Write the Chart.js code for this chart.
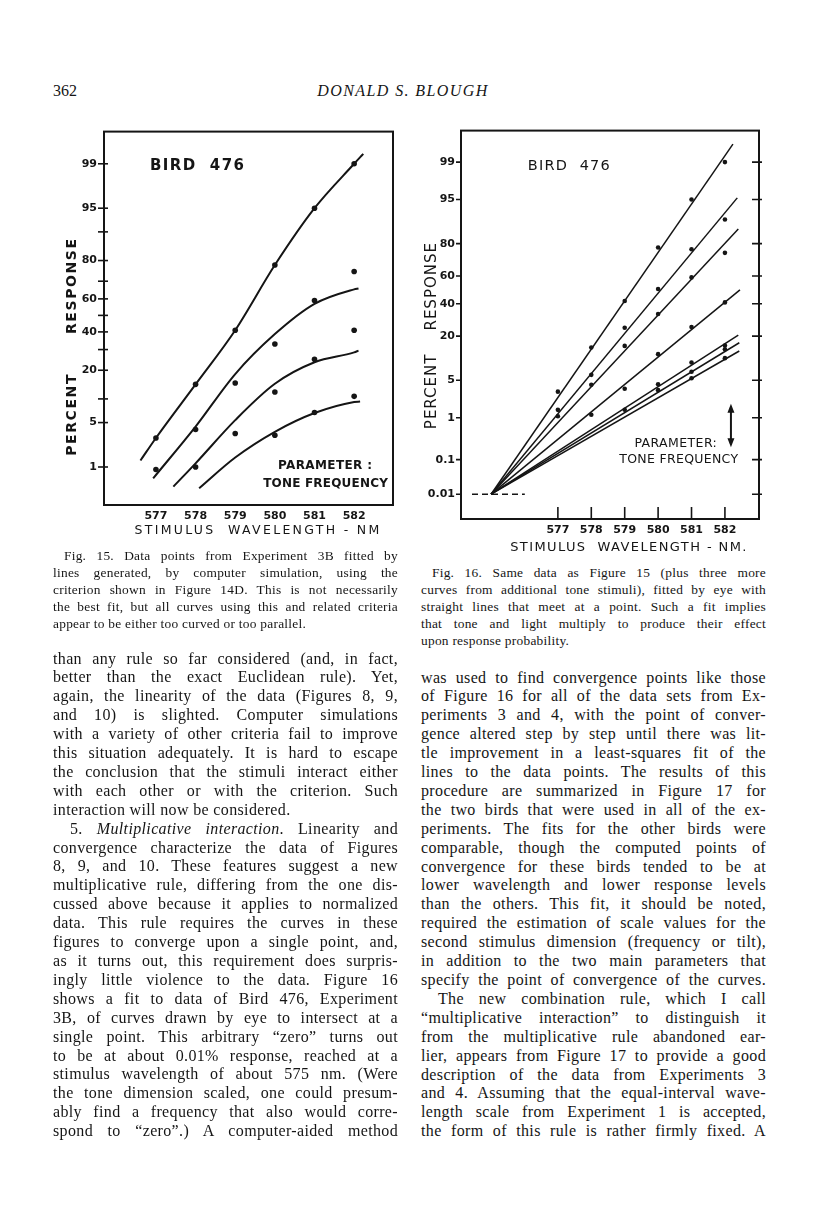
<!DOCTYPE html>
<html>
<head>
<meta charset="utf-8">
<script src="https://cdn.jsdelivr.net/npm/chart.js@4.4.1/dist/chart.umd.min.js"></script>
<style>
  body { margin: 0; background: #fff; }
  #page { position: relative; width: 816px; height: 1207px; overflow: hidden; background: #fff;
          font-family: "Liberation Serif", "DejaVu Serif", serif; color: #151515; }
  canvas { position: absolute; }
  .col { position: absolute; width: 345px; font-size: 16px; line-height: 18.9px; letter-spacing: 0.35px; }
  .cap { position: absolute; width: 345px; font-size: 13.4px; line-height: 17px; letter-spacing: 0.25px; }
  .col div, .cap div { text-align: justify; text-align-last: justify; }
  .col div.end, .cap div.end { text-align-last: left; }
  .col div.ind { padding-left: 17px; }
  .cap div.ind { padding-left: 11px; }
  #folio { position: absolute; left: 53px; top: 82px; font-size: 16px; }
  #runhead { position: absolute; left: 0; width: 806px; top: 82px; text-align: center;
             font-size: 16px; font-style: italic; letter-spacing: 1.4px; }
</style>
</head>
<body>
<div id="page">
  <div id="folio">362</div>
  <div id="runhead">DONALD S. BLOUGH</div>

  <canvas id="fig15" width="355" height="430" style="left:50px; top:118px;"></canvas>
  <canvas id="fig16" width="360" height="445" style="left:415px; top:118px;"></canvas>

  <div class="cap" style="left:53px; top:547px;">
    <div class="ind">Fig. 15. Data points from Experiment 3B fitted by</div>
    <div>lines generated, by computer simulation, using the</div>
    <div>criterion shown in Figure 14D. This is not necessarily</div>
    <div>the best fit, but all curves using this and related criteria</div>
    <div class="end">appear to be either too curved or too parallel.</div>
  </div>
  <div class="cap" style="left:421px; top:564px;">
    <div class="ind">Fig. 16. Same data as Figure 15 (plus three more</div>
    <div>curves from additional tone stimuli), fitted by eye with</div>
    <div>straight lines that meet at a point. Such a fit implies</div>
    <div>that tone and light multiply to produce their effect</div>
    <div class="end">upon response probability.</div>
  </div>

  <div class="col" style="left:53px; top:649.5px;">
    <div>than any rule so far considered (and, in fact,</div>
    <div>better than the exact Euclidean rule). Yet,</div>
    <div>again, the linearity of the data (Figures 8, 9,</div>
    <div>and 10) is slighted. Computer simulations</div>
    <div>with a variety of other criteria fail to improve</div>
    <div>this situation adequately. It is hard to escape</div>
    <div>the conclusion that the stimuli interact either</div>
    <div>with each other or with the criterion. Such</div>
    <div class="end">interaction will now be considered.</div>
    <div class="ind">5. <i>Multiplicative interaction</i>. Linearity and</div>
    <div>convergence characterize the data of Figures</div>
    <div>8, 9, and 10. These features suggest a new</div>
    <div>multiplicative rule, differing from the one dis-</div>
    <div>cussed above because it applies to normalized</div>
    <div>data. This rule requires the curves in these</div>
    <div>figures to converge upon a single point, and,</div>
    <div>as it turns out, this requirement does surpris-</div>
    <div>ingly little violence to the data. Figure 16</div>
    <div>shows a fit to data of Bird 476, Experiment</div>
    <div>3B, of curves drawn by eye to intersect at a</div>
    <div>single point. This arbitrary “zero” turns out</div>
    <div>to be at about 0.01% response, reached at a</div>
    <div>stimulus wavelength of about 575 nm. (Were</div>
    <div>the tone dimension scaled, one could presum-</div>
    <div>ably find a frequency that also would corre-</div>
    <div>spond to “zero”.) A computer-aided method</div>
  </div>

  <div class="col" style="left:421px; top:668.5px;">
    <div>was used to find convergence points like those</div>
    <div>of Figure 16 for all of the data sets from Ex-</div>
    <div>periments 3 and 4, with the point of conver-</div>
    <div>gence altered step by step until there was lit-</div>
    <div>tle improvement in a least-squares fit of the</div>
    <div>lines to the data points. The results of this</div>
    <div>procedure are summarized in Figure 17 for</div>
    <div>the two birds that were used in all of the ex-</div>
    <div>periments. The fits for the other birds were</div>
    <div>comparable, though the computed points of</div>
    <div>convergence for these birds tended to be at</div>
    <div>lower wavelength and lower response levels</div>
    <div>than the others. This fit, it should be noted,</div>
    <div>required the estimation of scale values for the</div>
    <div>second stimulus dimension (frequency or tilt),</div>
    <div>in addition to the two main parameters that</div>
    <div>specify the point of convergence of the curves.</div>
    <div class="ind">The new combination rule, which I call</div>
    <div>“multiplicative interaction” to distinguish it</div>
    <div>from the multiplicative rule abandoned ear-</div>
    <div>lier, appears from Figure 17 to provide a good</div>
    <div>description of the data from Experiments 3</div>
    <div>and 4. Assuming that the equal-interval wave-</div>
    <div>length scale from Experiment 1 is accepted,</div>
    <div>the form of this rule is rather firmly fixed. A</div>
  </div>
</div>

<script>
"use strict";

var ink = "#151515";

// wavelengths (nm) shared by both figures
var wavelengths = [577, 578, 579, 580, 581, 582];

// Fig. 15 - percent response
var fig15DotsA = [3, 14.5, 41, 78, 95, 99];          // 577..582
var fig15DotsB = [0.9, 4, 15, 33, 59, 75];           // 577..582
var fig15DotsC = [1.0, 3.5, 12, 25, 41];             // 578..582
var fig15DotsD = [3.3, 6.8, 10.7];                   // 580..582

// Fig. 15 - simulated curves
var curve1X = [576.61, 577, 578, 579, 580, 581, 582, 582.23];
var curve1Y = [1.3, 3, 14.5, 41, 78, 95, 99, 99.34];
var curve2X = [576.93, 578, 579, 580, 581, 582, 582.11];
var curve2Y = [0.62, 4.4, 18.4, 38.7, 57, 65.5, 66];
var curve3X = [577.44, 578, 579, 580, 581, 582, 582.11];
var curve3Y = [0.43, 1.16, 5.4, 14.7, 23.6, 28.5, 29.4];
var curve4X = [578.09, 579, 580, 581, 582, 582.15];
var curve4Y = [0.4, 1.46, 3.7, 6.7, 9.2, 9.3];

var fig15Ticks = [1, 5, 10, 20, 30, 40, 50, 60, 70, 80, 90, 95, 99];
var fig15Labels = [1, 5, 20, 40, 60, 80, 95, 99];

// Fig. 16 - dots, one row per line (first wavelength given)
var fig16Start = [577, 577, 577, 578, 579, 580, 581];
var fig16Dots = [
    [3.2, 14.7, 42, 78, 95, 99],
    [1.45, 6.1, 24.5, 50.6, 77, 90],
    [1.07, 4.2, 15.4, 33, 59, 75],
    [1.15, 3.6, 12.1, 25, 41],
    [1.46, 4.3, 9.3, 15.6],
    [3.4, 6.8, 14],
    [5.4, 10.7]
];
// Fig. 16 - straight lines from the convergence point
var convergeX = 575;
var convergeY = 0.01;
var lineEndX = [582.24, 582.37, 582.40, 582.45, 582.40, 582.43, 582.43];
var lineEndY = [99.6, 95.3, 86.6, 50, 20.5, 16.8, 13.3];
var dashX = [574.43, 576.01];
var dashY = [0.01, 0.01];

var fig16Ticks = [0.01, 0.1, 1, 5, 20, 40, 60, 80, 95, 99];


// inverse normal cdf (Acklam)
function probit(p) {
    var a = [-3.969683028665376e+01, 2.209460984245205e+02, -2.759285104469687e+02, 1.383577518672690e+02, -3.066479806614716e+01, 2.506628277459239e+00];
    var b = [-5.447609879822406e+01, 1.615858368580409e+02, -1.556989798598866e+02, 6.680131188771972e+01, -1.328068155288572e+01];
    var c = [-7.784894002430293e-03, -3.223964580411365e-01, -2.400758277161838e+00, -2.549671348908685e+00, 4.374664141464968e+00, 2.938163982698783e+00];
    var d = [7.784695709041462e-03, 3.224671290700398e-01, 2.445134137142996e+00, 3.754408661907416e+00];
    var q, r;
    if (p < 0.02425) {
        q = Math.sqrt(-2 * Math.log(p));
        return (((((c[0]*q+c[1])*q+c[2])*q+c[3])*q+c[4])*q+c[5]) / ((((d[0]*q+d[1])*q+d[2])*q+d[3])*q+1);
    }
    if (p <= 1 - 0.02425) {
        q = p - 0.5; r = q * q;
        return (((((a[0]*r+a[1])*r+a[2])*r+a[3])*r+a[4])*r+a[5])*q / (((((b[0]*r+b[1])*r+b[2])*r+b[3])*r+b[4])*r+1);
    }
    q = Math.sqrt(-2 * Math.log(1 - p));
    return -(((((c[0]*q+c[1])*q+c[2])*q+c[3])*q+c[4])*q+c[5]) / ((((d[0]*q+d[1])*q+d[2])*q+d[3])*q+1);
}

// probability-paper axis (values in percent)
class ProbitScale extends Chart.Scale {
    determineDataLimits() {
        this.min = this.options.min;
        this.max = this.options.max;
    }
    buildTicks() {
        return [];
    }
    getPixelForValue(value) {
        if (value === null || value === undefined || isNaN(value)) return NaN;
        var z0 = probit(this.min / 100), z1 = probit(this.max / 100);
        return this.getPixelForDecimal((probit(value / 100) - z0) / (z1 - z0));
    }
    getValueForPixel(pixel) {
        return this.getDecimalForPixel(pixel);
    }
}
ProbitScale.id = 'probit';
ProbitScale.defaults = {};
Chart.register(ProbitScale);


function pts(xs, ys) {
    return ys.map(function(v, i) { return {x: xs[i], y: v}; });
}

function dotSet(data, r) {
    return {type: 'scatter', data: data, pointRadius: r, pointBackgroundColor: ink,
            pointBorderWidth: 0, showLine: false};
}

function curveSet(data, w) {
    return {type: 'line', data: data, borderColor: ink, borderWidth: w, pointRadius: 0,
            cubicInterpolationMode: 'monotone', fill: false};
}

function drawText(ctx, str, x, y, font, spacing, align, rotate) {
    ctx.save();
    ctx.font = font;
    ctx.letterSpacing = spacing + 'px';
    ctx.fillStyle = ink;
    ctx.textAlign = align || 'center';
    ctx.textBaseline = 'middle';
    ctx.translate(x, y);
    if (rotate) ctx.rotate(-Math.PI / 2);
    ctx.fillText(str, 0, 0);
    ctx.restore();
}

function tickFont() {
    return {family: 'DejaVu Sans', size: 11, weight: 'bold'};
}


// Fig. 15
var fig15Marks = {
    id: 'fig15Marks',
    afterDraw: function(chart) {
        var ctx = chart.ctx, a = chart.chartArea, xs = chart.scales.x, ys = chart.scales.y;
        ctx.save();
        ctx.strokeStyle = ink;
        ctx.lineWidth = 2;
        ctx.strokeRect(a.left, a.top, a.right - a.left, a.bottom - a.top);
        ctx.lineWidth = 1.6;
        fig15Ticks.forEach(function(v) {
            var py = ys.getPixelForValue(v);
            ctx.beginPath();
            ctx.moveTo(a.left - 6, py);
            ctx.lineTo(a.left + 4, py);
            ctx.stroke();
        });
        ctx.restore();

        drawText(ctx, 'BIRD  476', xs.getPixelForValue(576.85), ys.getPixelForValue(98.88),
                 'bold 15px "DejaVu Sans"', 1.4, 'left');
        drawText(ctx, 'PARAMETER :', xs.getPixelForValue(581.27), ys.getPixelForValue(1.04),
                 'bold 12px "DejaVu Sans"', 0.4, 'center');
        drawText(ctx, 'TONE FREQUENCY', xs.getPixelForValue(581.28), ys.getPixelForValue(0.48),
                 'bold 12px "DejaVu Sans"', 0.2, 'center');
        // axis titles
        drawText(ctx, 'STIMULUS  WAVELENGTH - NM', a.left + 154, a.bottom + 26,
                 '12.5px "DejaVu Sans"', 2.3, 'center');
        drawText(ctx, 'PERCENT      RESPONSE', a.left - 32, a.top + 215,
                 'bold 14px "DejaVu Sans"', 1.6, 'center', true);
    }
};

new Chart(document.getElementById('fig15'), {
    type: 'line',
    data: {
        datasets: [
            dotSet(pts(wavelengths, fig15DotsA), 2.8),
            dotSet(pts(wavelengths, fig15DotsB), 2.8),
            dotSet(pts(wavelengths.slice(1), fig15DotsC), 2.8),
            dotSet(pts(wavelengths.slice(3), fig15DotsD), 2.8),
            curveSet(pts(curve1X, curve1Y), 2),
            curveSet(pts(curve2X, curve2Y), 2),
            curveSet(pts(curve3X, curve3Y), 2),
            curveSet(pts(curve4X, curve4Y), 2)
        ]
    },
    options: {
        responsive: false,
        animation: false,
        events: [],
        layout: {padding: {top: 12, right: 12, left: 0, bottom: 0}},
        plugins: {legend: {display: false}, tooltip: {enabled: false}},
        scales: {
            x: {
                type: 'linear', min: 575.69, max: 582.98,
                grid: {display: false, drawTicks: false}, border: {display: false},
                afterBuildTicks: function(s) { s.ticks = wavelengths.map(function(v) { return {value: v}; }); },
                afterFit: function(s) { s.height = 43; },
                ticks: {color: ink, font: tickFont(), padding: 5, autoSkip: false, maxRotation: 0}
            },
            y: {
                type: 'probit', min: 0.181, max: 99.76,
                grid: {display: false, drawTicks: false}, border: {display: false},
                afterBuildTicks: function(s) { s.ticks = fig15Ticks.map(function(v) { return {value: v}; }); },
                afterFit: function(s) { s.width = 54; },
                ticks: {
                    color: ink, font: tickFont(), padding: 7, autoSkip: false,
                    callback: function(v) { return fig15Labels.indexOf(v) >= 0 ? String(v) : ''; }
                }
            }
        }
    },
    plugins: [fig15Marks]
});


// Fig. 16
var fig16Data = [];
fig16Dots.forEach(function(row, k) {
    var xs = row.map(function(v, i) { return fig16Start[k] + i; });
    fig16Data.push(dotSet(pts(xs, row), 2.3));
});
lineEndX.forEach(function(x, k) {
    fig16Data.push({type: 'line', data: pts([convergeX, x], [convergeY, lineEndY[k]]),
                    borderColor: ink, borderWidth: 1.5, pointRadius: 0, fill: false});
});
fig16Data.push({type: 'line', data: pts(dashX, dashY), borderColor: ink, borderWidth: 1.4,
                borderDash: [6, 4], pointRadius: 0, fill: false});

var fig16Marks = {
    id: 'fig16Marks',
    afterDraw: function(chart) {
        var ctx = chart.ctx, a = chart.chartArea, xs = chart.scales.x, ys = chart.scales.y;
        ctx.save();
        ctx.strokeStyle = ink;
        ctx.lineWidth = 2;
        ctx.strokeRect(a.left, a.top, a.right - a.left, a.bottom - a.top);
        ctx.lineWidth = 1.6;
        fig16Ticks.forEach(function(v) {
            var py = ys.getPixelForValue(v);
            ctx.beginPath();
            ctx.moveTo(a.left - 5, py);
            ctx.lineTo(a.left, py);
            ctx.moveTo(a.right - 7, py);
            ctx.lineTo(a.right + 3, py);
            ctx.stroke();
        });
        wavelengths.forEach(function(v) {
            var px = xs.getPixelForValue(v);
            ctx.beginPath();
            ctx.moveTo(px, a.bottom);
            ctx.lineTo(px, a.bottom - 12);
            ctx.stroke();
        });
        // parameter arrow
        var ax = xs.getPixelForValue(582.18), ay1 = ys.getPixelForValue(1.92), ay2 = ys.getPixelForValue(0.208);
        ctx.lineWidth = 2;
        ctx.beginPath();
        ctx.moveTo(ax, ay1 + 3);
        ctx.lineTo(ax, ay2 - 3);
        ctx.stroke();
        ctx.fillStyle = ink;
        ctx.beginPath();
        ctx.moveTo(ax, ay1); ctx.lineTo(ax - 3.5, ay1 + 9); ctx.lineTo(ax + 3.5, ay1 + 9); ctx.closePath();
        ctx.moveTo(ax, ay2); ctx.lineTo(ax - 3.5, ay2 - 9); ctx.lineTo(ax + 3.5, ay2 - 9); ctx.closePath();
        ctx.fill();
        ctx.restore();

        drawText(ctx, 'BIRD  476', xs.getPixelForValue(576.10), ys.getPixelForValue(98.78),
                 '14.5px "DejaVu Sans"', 1.2, 'left');
        drawText(ctx, 'PARAMETER:', xs.getPixelForValue(580.53), ys.getPixelForValue(0.26),
                 '12.5px "DejaVu Sans"', 0.4, 'center');
        drawText(ctx, 'TONE FREQUENCY', xs.getPixelForValue(580.62), ys.getPixelForValue(0.0965),
                 '12.5px "DejaVu Sans"', 0.3, 'center');
        // axis titles
        drawText(ctx, 'STIMULUS  WAVELENGTH - NM.', a.left + 168, a.bottom + 29,
                 '13px "DejaVu Sans"', 1.4, 'center');
        drawText(ctx, 'PERCENT    RESPONSE', a.left - 29, a.top + 205,
                 '15px "DejaVu Sans"', 1.0, 'center', true);
    }
};

new Chart(document.getElementById('fig16'), {
    type: 'line',
    data: {datasets: fig16Data},
    options: {
        responsive: false,
        animation: false,
        events: [],
        layout: {padding: {top: 10, right: 16, left: 0, bottom: 0}},
        plugins: {legend: {display: false}, tooltip: {enabled: false}},
        scales: {
            x: {
                type: 'linear', min: 574.1, max: 583.02,
                grid: {display: false, drawTicks: false}, border: {display: false},
                afterBuildTicks: function(s) { s.ticks = wavelengths.map(function(v) { return {value: v}; }); },
                afterFit: function(s) { s.height = 44; },
                ticks: {color: ink, font: tickFont(), padding: 5, autoSkip: false, maxRotation: 0}
            },
            y: {
                type: 'probit', min: 0.00152, max: 99.813,
                grid: {display: false, drawTicks: false}, border: {display: false},
                afterBuildTicks: function(s) { s.ticks = fig16Ticks.map(function(v) { return {value: v}; }); },
                afterFit: function(s) { s.width = 46; },
                ticks: {color: ink, font: tickFont(), padding: 6, autoSkip: false,
                        callback: function(v) { return String(v); }}
            }
        }
    },
    plugins: [fig16Marks]
});
</script>
</body>
</html>
